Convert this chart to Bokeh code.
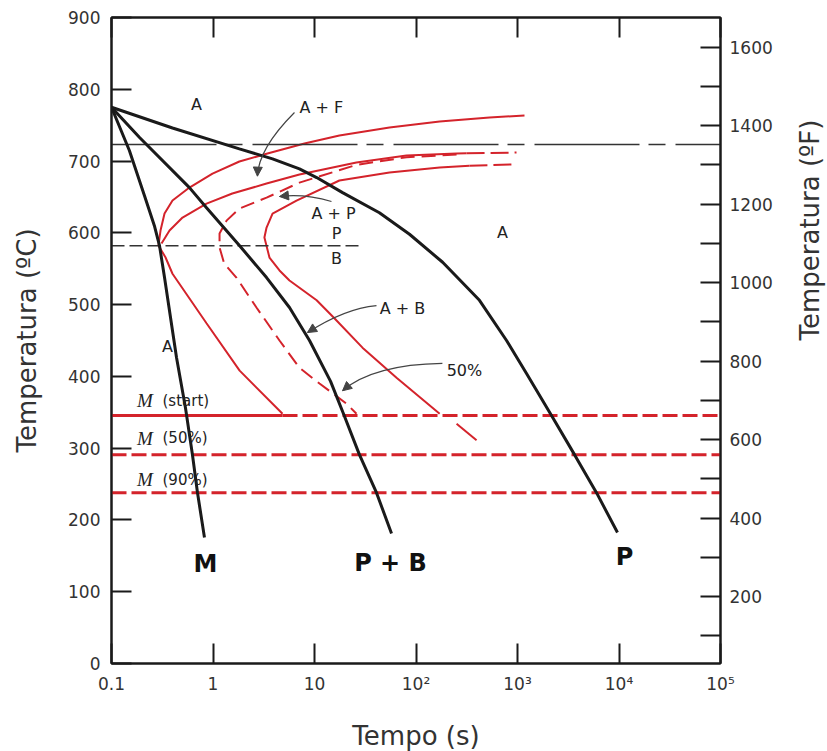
import math
from bokeh.plotting import figure
from bokeh.models import Range1d, LinearAxis, LogAxis, FixedTicker, Arrow, NormalHead
from bokeh.core.properties import value
from bokeh.embed import file_html
from bokeh.resources import INLINE

# ---------------- axes and ticks ----------------
time_span = [0.1, 100000]
celsius_span = [0, 900]
fahrenheit_span = [29.2, 1675.7]
time_ticks = [0.1, 1, 10, 100, 1000, 10000, 100000]
time_tick_labels = ["0.1", "1", "10", "10²", "10³", "10⁴", "10⁵"]
celsius_ticks = [0, 100, 200, 300, 400, 500, 600, 700, 800, 900]
fahrenheit_ticks = [200, 400, 600, 800, 1000, 1200, 1400, 1600]
fahrenheit_minor = [100, 300, 500, 700, 900, 1100, 1300, 1500]

# ---------------- horizontal reference temperatures (°C) ----------------
a1_temp = 723
pb_temp = 582
pb_end_time = 27.7
ms_temp = 345.5
ms_solid_end = 4.84
m50_temp = 291
m90_temp = 238

# ---------------- cooling curves (black) ----------------
m_cool_t = [0.1, 0.150, 0.211, 0.266, 0.297, 0.333, 0.437, 0.535, 0.627, 0.703, 0.824]
m_cool_T = [775, 714.7, 652, 608.8, 582.3, 537.7, 426.3, 356.6, 291.2, 238.2, 175.5]

pb_cool_t = [0.1, 0.189, 0.586, 0.863, 1.83, 3.37, 5.67, 8.93, 14.4, 19.3, 27.7, 40.8, 57.4]
pb_cool_T = [775, 732.8, 663, 635, 582, 537.7, 496, 450, 393, 348, 291, 238, 181]

p_cool_t = [0.1, 0.399, 1.82, 3.86, 7.11, 10.5, 18.9, 43.6, 86.3, 183, 422, 780, 1227, 2163, 3645, 6000, 9660]
p_cool_T = [775, 746, 717, 703, 689, 677, 656, 628, 598, 559, 506, 450, 404, 345.5, 291, 238, 182.5]

# ---------------- transformation curves (red) ----------------
start_t = [1172, 530, 171, 54.8, 17.6, 7.96, 3.44, 1.82, 0.989, 0.586, 0.399, 0.333, 0.304, 0.290,
           0.34, 0.399, 0.863, 1.83, 4.84]
start_T = [763.4, 760.7, 755.1, 746.7, 735.6, 724.4, 710.5, 699.4, 682.6, 663.1, 645.0, 626.9, 603.2, 582.3,
           566, 543, 474, 408, 348]

ap_t = [0.311, 0.373, 0.501, 0.863, 1.55, 3.37, 7.11, 25.9, 80.6, 251, 315]
ap_T = [585.1, 603.2, 621.3, 640.6, 654.8, 668.7, 681.2, 698, 707.7, 710.5, 710.8]
ap_tail_t = [315, 978]
ap_tail_T = [710.8, 711.9]

half_t = [251, 80.6, 25.9, 7.11, 3.37, 1.83, 1.36, 1.16, 1.16, 1.29, 1.70, 2.68, 4.52, 7.11, 11.2, 20.7, 25.9]
half_T = [709, 705.3, 694.7, 670, 649, 634, 617, 599, 579.6, 557, 537.7, 496, 450, 412, 390, 362, 348]

fin_t = [336, 171, 54.8, 17.6, 6.65, 3.86, 3.37, 3.21, 3.6, 4.52, 5.67, 10.5, 15.7, 29.7, 64.3, 171]
fin_T = [693.5, 691, 684, 672.9, 645, 626.9, 607.4, 593.6, 565.6, 547.6, 533.6, 506, 481, 440, 398, 348]
fin_tail_t = [336, 873]
fin_tail_T = [693.5, 695.2]
fin_low_t = [251, 395]
fin_low_T = [334, 311]

# ---------------- annotations ----------------
inner_label_t = [0.687, 711, 0.356, 11.7, 15.4, 16.5, 16.5, 73.6, 300]
inner_label_T = [779, 600, 441.6, 775, 627, 599, 564, 494.6, 408]
inner_label_text = ["A", "A", "A", "A + F", "A + P", "P", "B", "A + B", "50%"]

big_label_t = [0.843, 56.1, 11320]
big_label_T = [139, 140.7, 147.7]
big_label_text = ["M", "P + B", "P"]

m_label_t = [0.178, 0.178, 0.178]
m_paren_t = [0.318, 0.318, 0.318]
m_label_T = [366.4, 313.5, 256]
m_paren_text = ["(start)", "(50%)", "(90%)"]

arrow_x0 = [6.35, 14.7, 40.8, 182]
arrow_y0 = [767.6, 643.6, 498.7, 418]
arrow_cx = [2.81, 7.96, 19.8, 38.1]
arrow_cy = [717.5, 654.8, 494.6, 416.5]
arrow_x1 = [2.74, 4.52, 8.53, 18.9]
arrow_y1 = [679, 650.6, 461, 380]

RED = "#d4232b"
INK = "#1a1a1a"
GREY = "#333333"
ARROW = "#444444"

p = figure(x_axis_type="log", x_range=Range1d(*time_span), y_range=Range1d(*celsius_span),
           frame_width=609, frame_height=646,
           min_border_left=111, min_border_right=20, min_border_top=17, min_border_bottom=20,
           output_backend="svg", toolbar_location=None)
p.extra_y_ranges = {"F": Range1d(*fahrenheit_span)}
p.grid.visible = False
p.outline_line_color = INK
p.outline_line_width = 2
p.background_fill_color = "white"
p.border_fill_color = "white"


def style(ax):
    ax.axis_line_color = INK
    ax.axis_line_width = 2
    ax.major_tick_in = 20
    ax.major_tick_out = 0
    ax.minor_tick_in = 20
    ax.minor_tick_out = 0
    ax.major_tick_line_color = INK
    ax.major_tick_line_width = 2
    ax.minor_tick_line_color = INK
    ax.minor_tick_line_width = 2
    ax.major_label_text_font = "DejaVu Sans"
    ax.major_label_text_font_size = "17px"
    ax.major_label_text_color = GREY
    ax.axis_label_text_font = "DejaVu Sans"
    ax.axis_label_text_font_size = "26px"
    ax.axis_label_text_font_style = "normal"
    ax.axis_label_text_color = GREY


xa = p.xaxis[0]
style(xa)
xa.ticker = FixedTicker(ticks=time_ticks)
xa.major_label_overrides = {t: l for t, l in zip(time_ticks, time_tick_labels)}
xa.axis_label = "Tempo (s)"
xa.major_label_standoff = 10
xa.axis_label_standoff = 24

ya = p.yaxis[0]
style(ya)
ya.ticker = FixedTicker(ticks=celsius_ticks)
ya.axis_label = "Temperatura (ºC)"
ya.major_label_standoff = 11
ya.axis_label_standoff = 23

ra = LinearAxis(y_range_name="F", ticker=FixedTicker(ticks=fahrenheit_ticks, minor_ticks=fahrenheit_minor),
                axis_label="Temperatura (ºF)")
style(ra)
ra.major_label_standoff = 9
ra.axis_label_standoff = 34
try:
    ra.axis_label_orientation = math.pi / 2
except Exception:
    pass
p.add_layout(ra, "right")

ta = LogAxis(ticker=FixedTicker(ticks=time_ticks))
style(ta)
ta.major_label_overrides = {t: " " for t in time_ticks}
ta.major_label_text_font_size = "2px"
ta.major_label_text_alpha = 0
ta.major_label_standoff = 0
p.add_layout(ta, "above")

# red martensite lines
p.line([time_span[0], ms_solid_end], [ms_temp, ms_temp], line_color=RED, line_width=3)
p.line([ms_solid_end, time_span[1]], [ms_temp, ms_temp], line_color=RED, line_width=3, line_dash="15 5")
p.line(time_span, [m50_temp, m50_temp], line_color=RED, line_width=3, line_dash="15 5")
p.line(time_span, [m90_temp, m90_temp], line_color=RED, line_width=3, line_dash="15 5")

# red transformation curves
p.line(start_t, start_T, line_color=RED, line_width=2)
p.line(ap_t, ap_T, line_color=RED, line_width=2)
p.line(ap_tail_t, ap_tail_T, line_color=RED, line_width=2, line_dash="18 6")
p.line(half_t, half_T, line_color=RED, line_width=2, line_dash="14 7")
p.line(fin_t, fin_T, line_color=RED, line_width=2)
p.line(fin_tail_t, fin_tail_T, line_color=RED, line_width=2, line_dash="18 6")
p.line(fin_low_t, fin_low_T, line_color=RED, line_width=2)

# black reference lines
p.line(time_span, [a1_temp, a1_temp], line_color=GREY, line_width=1.5, line_dash="105 9 17 10")
p.line([time_span[0], pb_end_time], [pb_temp, pb_temp], line_color=GREY, line_width=1.5, line_dash="13 5")

# cooling curves
p.line(m_cool_t, m_cool_T, line_color=INK, line_width=3)
p.line(pb_cool_t, pb_cool_T, line_color=INK, line_width=3)
p.line(p_cool_t, p_cool_T, line_color=INK, line_width=3)

# arrows
p.quadratic(x0=arrow_x0, y0=arrow_y0, x1=arrow_x1, y1=arrow_y1, cx=arrow_cx, cy=arrow_cy,
            line_color=ARROW, line_width=1.2)
for x0, y0, cx, cy, x1, y1 in zip(arrow_x0, arrow_y0, arrow_cx, arrow_cy, arrow_x1, arrow_y1):
    lx = math.log10(x1) + 0.12 * (math.log10(cx) - math.log10(x1))
    ys = y1 + 0.12 * (cy - y1)
    p.add_layout(Arrow(end=NormalHead(size=9, fill_color=ARROW, line_color=ARROW),
                       x_start=10 ** lx, y_start=ys, x_end=x1, y_end=y1,
                       line_color=ARROW, line_width=1.2))

# labels
p.text(x=inner_label_t, y=inner_label_T, text=inner_label_text, text_font=value("DejaVu Sans"),
       text_font_size="16px", text_color="#222222", text_align="center", text_baseline="middle")
p.text(x=big_label_t, y=big_label_T, text=big_label_text, text_font=value("DejaVu Sans"),
       text_font_style="bold", text_font_size="24px", text_color="#111111",
       text_align="center", text_baseline="middle")
p.text(x=m_label_t, y=m_label_T, text=["M", "M", "M"], text_font=value("Liberation Serif"),
       text_font_style="italic", text_font_size="19px", text_color="#222222",
       text_align="left", text_baseline="middle")
p.text(x=m_paren_t, y=m_label_T, text=m_paren_text, text_font=value("DejaVu Sans"),
       text_font_size="15px", text_color="#222222", text_align="left", text_baseline="middle")

open("out.html", "w").write(file_html(p, INLINE))
